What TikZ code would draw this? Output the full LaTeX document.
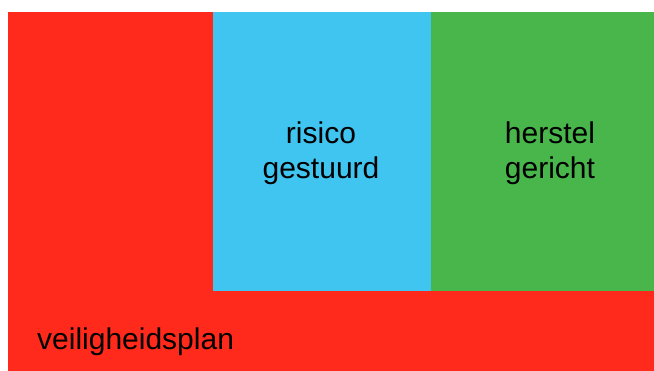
\documentclass[tikz,border=0pt]{standalone}
\usepackage{fontspec}
\setmainfont{Liberation Sans}
\definecolor{planred}{RGB}{255,42,27}
\definecolor{riskblue}{RGB}{64,196,240}
\definecolor{repairgreen}{RGB}{72,182,74}
\begin{document}
\begin{tikzpicture}[x=1pt,y=1pt]
		
		\def \xone{8};
		\def \yone{0};
		\useasboundingbox (0,0) rectangle (654,371);
		% big red block
		\coordinate (A) at (\xone,\yone);
		
        \fill[planred] (A) rectangle ++(646,359);
        
        % blue block
        \coordinate (A1) at (213,79.5);
        \fill[riskblue] (A1) rectangle ++(218,279.5);
        
        % green block
        \coordinate (A2) at (431,79.5);
        \fill[repairgreen] (A2) rectangle ++(223,279.5);
        
        \node[font=\fontsize{30}{35}\selectfont,align=center] (risk) at (321,217.5) {risico\\gestuurd};
        \node[font=\fontsize{30}{35}\selectfont,align=center] (repair) at (550,217.5) {herstel\\gericht};
        \node[font=\fontsize{30}{35}\selectfont,anchor=base west,inner sep=0] (plan) at (37,21) {veiligheidsplan};
\end{tikzpicture}
\end{document}
